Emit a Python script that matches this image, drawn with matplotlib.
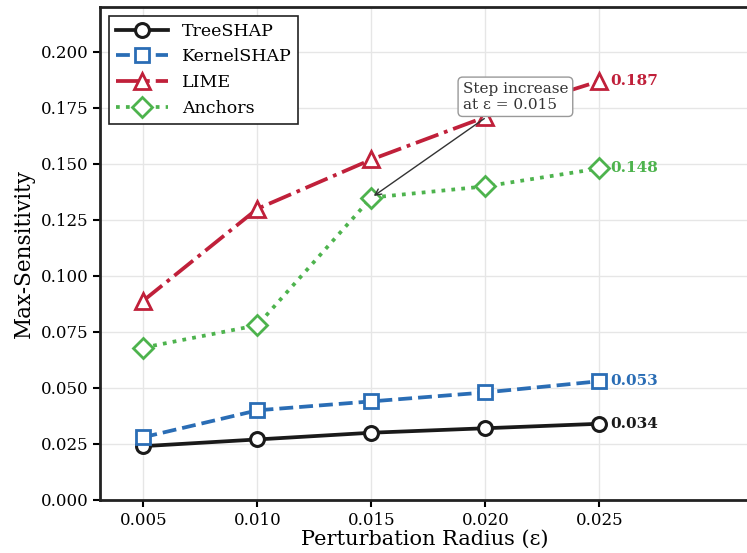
import numpy as np
import matplotlib.pyplot as plt

plt.rcParams['font.family'] = 'DejaVu Serif'

eps = [0.005, 0.010, 0.015, 0.020, 0.025]
tree = [0.024, 0.027, 0.030, 0.032, 0.034]
kernel = [0.028, 0.040, 0.044, 0.048, 0.053]
lime = [0.089, 0.130, 0.152, 0.171, 0.187]
anchors = [0.068, 0.078, 0.135, 0.140, 0.148]

fig = plt.figure(figsize=(7.47, 5.53), dpi=100)
ax = fig.add_axes([0.134, 0.096, 0.87, 0.891])

ax.plot(eps, tree, color='#1a1a1a', linestyle='-', linewidth=2.7, marker='o',
        markersize=10, markerfacecolor='white', markeredgewidth=2.2, label='TreeSHAP')
ax.plot(eps, kernel, color='#2a6db5', linestyle='--', linewidth=2.7, marker='s',
        markersize=10, markerfacecolor='white', markeredgewidth=2, label='KernelSHAP')
ax.plot(eps, lime, color='#c0203a', linestyle='-.', linewidth=2.7, marker='^',
        markersize=11, markerfacecolor='white', markeredgewidth=2, label='LIME')
ax.plot(eps, anchors, color='#4db34d', linestyle=':', linewidth=2.7, marker='D',
        markersize=10, markerfacecolor='white', markeredgewidth=2, label='Anchors')

for vals, c in [(tree, '#1a1a1a'), (kernel, '#2a6db5'), (lime, '#c0203a'), (anchors, '#4db34d')]:
    ax.annotate('%.3f' % vals[-1], (eps[-1], vals[-1]), xytext=(8, 0),
                textcoords='offset points', va='center', ha='left',
                color=c, fontsize=11, fontweight='bold')

ax.annotate('Step increase\nat ε = 0.015', xy=(0.015, 0.135), xytext=(0.0190, 0.1800),
            fontsize=11, color='#333333', ha='left', va='center',
            bbox=dict(boxstyle='round,pad=0.3', fc='white', ec='#999999', lw=1),
            arrowprops=dict(arrowstyle='->', color='#333333', lw=1))

ax.set_xlim(0.0031, 0.0316)
ax.set_ylim(0, 0.22)
ax.set_xticks(eps)
ax.set_xticklabels(['%.3f' % e for e in eps])
ax.set_yticks(np.arange(0, 0.201, 0.025))
ax.set_yticklabels(['%.3f' % v for v in np.arange(0, 0.201, 0.025)])
ax.tick_params(labelsize=12, width=1.5, length=5)
ax.grid(True, color='#e6e6e6', linewidth=1)
ax.set_axisbelow(True)
for s in ax.spines.values():
    s.set_linewidth(2)
    s.set_color('#222222')

ax.set_xlabel('Perturbation Radius (ε)', fontsize=15, labelpad=1)
ax.set_ylabel('Max-Sensitivity', fontsize=15.5)

leg = ax.legend(loc='upper left', fontsize=12.5, handlelength=3, fancybox=False,
                edgecolor='#222222', framealpha=1)
leg.get_frame().set_linewidth(1.2)

fig.savefig('out.png', dpi=100)
